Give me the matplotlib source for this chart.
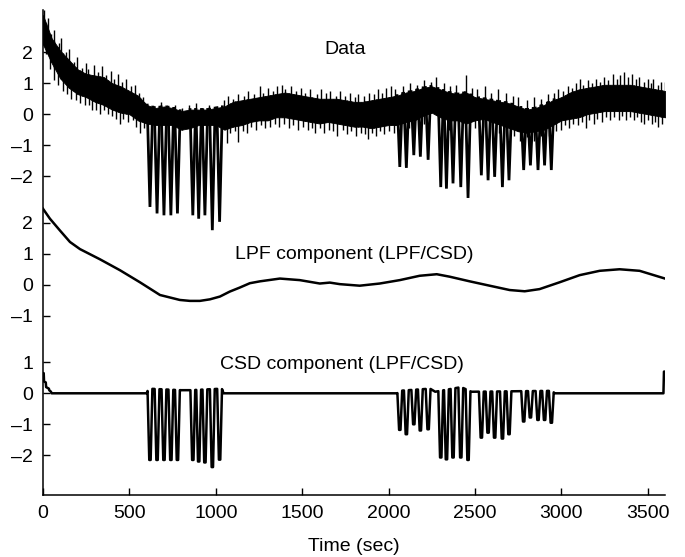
import numpy as np
import matplotlib
matplotlib.use("Agg")
import matplotlib.pyplot as plt

plt.rcParams['font.family'] = ['Liberation Sans', 'DejaVu Sans']

# vertical offsets of the three stacked traces on one shared axis
OFF_DATA, OFF_LPF, OFF_CSD = 9.0, 3.5, 0.0

# LPF component (time in sec, value)
lpf_t = [0, 40, 98, 156, 214, 330, 445, 561, 677, 792, 850, 908, 966, 1024, 1081, 1139,
         1197, 1255, 1371, 1486, 1602, 1660, 1718, 1833, 1949, 2065, 2180, 2279, 2354,
         2470, 2585, 2701, 2788, 2874, 2990, 3106, 3222, 3337, 3453, 3600]
lpf_v = [2.45, 2.13, 1.75, 1.38, 1.15, 0.82, 0.47, 0.08, -0.33, -0.49, -0.52, -0.52, -0.47,
         -0.38, -0.22, -0.09, 0.05, 0.11, 0.2, 0.15, 0.04, 0.07, 0.02, -0.03, 0.04, 0.15,
         0.29, 0.34, 0.26, 0.11, -0.03, -0.17, -0.21, -0.14, 0.08, 0.31, 0.45, 0.5, 0.45, 0.2]

# CSD component: baseline knots plus the individual pulses
csd_base_t = [0, 4, 6, 16, 18, 34, 36, 46, 50, 600, 610, 800, 850, 1035, 1045, 2050, 2060,
              2240, 2270, 2420, 2480, 2950, 2960, 3591, 3594, 3600]
csd_base_v = [0.65, 0.65, 0.38, 0.35, 0.2, 0.15, 0.1, 0.05, 0.0, 0.0, 0.15, 0.1, 0.1, 0.15,
              0.0, 0.0, 0.08, 0.15, 0.05, 0.2, 0.05, 0.08, 0.0, 0.0, 0.7, 0.7]
pulse_t = [619, 660, 700, 740, 778, 867, 901, 937, 980, 1022,
           2065, 2103, 2146, 2184, 2229, 2302, 2335, 2373, 2418, 2460,
           2537, 2576, 2614, 2659, 2697, 2782, 2821, 2865, 2903, 2942]
pulse_depth = [-2.15, -2.15, -2.15, -2.15, -2.15, -2.15, -2.2, -2.23, -2.38, -2.14,
               -1.18, -1.32, -1.0, -1.2, -1.16, -2.07, -2.13, -2.07, -2.07, -2.15,
               -1.43, -1.27, -1.43, -1.46, -1.32, -0.91, -0.78, -0.86, -0.86, -0.95]

# raw data: solid core of the noise band every 50 s
env_t = list(range(0, 3601, 50))
env_hi = [3.2, 2.45, 2.05, 1.75, 1.45, 1.3, 1.25, 1.2, 1.0, 0.9, 0.75, 0.6, 0.3, 0.2, 0.25,
          0.2, 0.1, 0.15, 0.15, 0.15, 0.2, 0.25, 0.4, 0.45, 0.5, 0.55, 0.6, 0.65, 0.7, 0.65,
          0.6, 0.55, 0.5, 0.5, 0.5, 0.45, 0.4, 0.4, 0.45, 0.5, 0.55, 0.6, 0.7, 0.75, 0.85,
          0.9, 0.8, 0.7, 0.65, 0.7, 0.55, 0.5, 0.45, 0.4, 0.35, 0.25, 0.15, 0.2, 0.3, 0.45,
          0.55, 0.7, 0.8, 0.85, 0.9, 0.95, 0.95, 0.95, 0.95, 0.9, 0.85, 0.8, 0.75]
env_lo = [2.25, 1.65, 1.15, 0.85, 0.65, 0.55, 0.4, 0.3, 0.15, 0.05, 0.0, -0.2, -0.3, -0.35,
          -0.35, -0.35, -0.5, -0.45, -0.35, -0.35, -0.35, -0.5, -0.4, -0.35, -0.25, -0.2, -0.2,
          -0.1, -0.1, -0.15, -0.2, -0.25, -0.3, -0.25, -0.3, -0.35, -0.4, -0.4, -0.45, -0.4,
          -0.35, -0.35, -0.25, -0.2, -0.05, 0.05, -0.1, -0.2, -0.2, -0.3, -0.2, -0.15, -0.25,
          -0.35, -0.45, -0.55, -0.6, -0.55, -0.5, -0.35, -0.2, -0.15, -0.1, 0.0, 0.05, 0.1,
          0.1, 0.1, 0.1, 0.05, 0.0, -0.05, -0.1]
# noise spikes sticking out of the band (upper and lower fringe)
spike_up_t = [5, 27, 48, 66, 90, 104, 131, 152, 178, 197, 224, 251, 262, 293, 318, 339, 362,
              391, 412, 433, 458, 482, 509, 531, 558, 578, 640, 682, 722, 763, 805, 846, 885,
              924, 962, 1005, 1046, 1071, 1098, 1127, 1163, 1186, 1219, 1255, 1272, 1301,
              1334, 1352, 1385, 1402, 1437, 1462, 1493, 1517, 1546, 1583, 1608, 1637, 1662,
              1695, 1721, 1749, 1778, 1806, 1823, 1857, 1884, 1913, 1938, 1961, 1988, 2012,
              2036, 2084, 2124, 2162, 2205, 2244, 2272, 2318, 2353, 2393, 2446, 2483, 2514,
              2557, 2595, 2636, 2679, 2718, 2748, 2802, 2843, 2884, 2923, 2958, 2983, 3012,
              3037, 3064, 3085, 3106, 3128, 3152, 3177, 3203, 3226, 3248, 3271, 3300, 3322,
              3341, 3360, 3386, 3407, 3431, 3452, 3476, 3499, 3521, 3533, 3557, 3578, 3598]
spike_up_v = [3.35, 3.1, 2.6, 2.7, 2.3, 2.45, 2.0, 2.1, 1.7, 1.85,
              1.5, 1.65, 1.45, 1.6, 1.35, 1.55, 1.25, 1.4, 1.15, 1.3,
              1.05, 1.15, 0.9, 0.95, 0.7, 0.55, 0.25, 0.4, 0.15, 0.3,
              0.2, 0.3, 0.35, 0.2, 0.3, 0.25, 0.45, 0.6, 0.5, 0.65,
              0.6, 0.75, 0.65, 0.9, 0.7, 0.85, 0.75, 0.9, 0.95, 0.8,
              0.9, 0.75, 0.85, 0.7, 0.8, 0.65, 0.8, 0.7, 0.75, 0.6,
              0.75, 0.6, 0.7, 0.55, 0.65, 0.6, 0.7, 0.65, 0.8, 0.7,
              0.85, 0.9, 0.8, 0.9, 1.0, 0.95, 1.1, 1.05, 1.2, 1.0,
              0.9, 0.95, 1.26, 0.85, 0.8, 0.9, 0.7, 0.8, 0.7, 0.6,
              0.55, 0.45, 0.55, 0.5, 0.65, 0.7, 0.8, 0.75, 0.9, 0.85,
              1.0, 1.15, 0.95, 1.1, 1.0, 1.15, 1.05, 1.2, 1.1, 1.3,
              1.15, 1.25, 1.37, 1.2, 1.3, 1.15, 1.2, 1.05, 1.15, 1.0,
              1.15, 0.95, 1.05, 1.05]
spike_dn_t = [18, 41, 63, 86, 113, 138, 164, 189, 213, 241, 268, 281, 307, 330, 352, 377, 401,
              423, 445, 463, 491, 518, 539, 561, 587, 1062, 1085, 1111, 1130, 1157, 1182,
              1206, 1233, 1262, 1287, 1316, 1343, 1367, 1395, 1421, 1447, 1478, 1502, 1531,
              1558, 1572, 1603, 1629, 1654, 1681, 1702, 1736, 1757, 1785, 1812, 1838, 1861,
              1880, 1904, 1929, 1953, 1976, 2003, 2029, 2118, 2207, 2352, 2499, 2558, 2639,
              2727, 2758, 2803, 2843, 2884, 2926, 2968, 2996, 3021, 3047, 3069, 3094, 3117,
              3140, 3163, 3188, 3209, 3236, 3258, 3283, 3306, 3331, 3349, 3372, 3396, 3418,
              3437, 3462, 3481, 3503, 3526, 3545, 3562, 3584]
spike_dn_v = [1.95, 1.45, 1.1, 0.95, 0.75, 0.65, 0.5, 0.45, 0.35, 0.3,
              0.3, 0.15, 0.15, 0.0, 0.15, 0.0, -0.05, -0.15, -0.3, -0.15,
              -0.25, -0.2, -0.4, -0.6, -0.45, -0.94, -0.6, -0.55, -0.89, -0.55,
              -0.6, -0.4, -0.5, -0.35, -0.45, -0.4, -0.3, -0.4, -0.3, -0.45,
              -0.35, -0.5, -0.4, -0.5, -0.45, -0.6, -0.45, -0.6, -0.5, -0.55,
              -0.7, -0.5, -0.65, -0.55, -0.7, -0.6, -0.65, -0.8, -0.6, -0.7,
              -0.55, -0.65, -0.55, -0.6, -0.45, -0.3, -0.5, -0.45, -0.4, -0.6,
              -0.7, -0.85, -0.75, -0.85, -0.7, -0.7, -0.55, -0.5, -0.35, -0.45,
              -0.3, -0.35, -0.25, -0.46, -0.2, -0.3, -0.15, -0.25, -0.1, -0.2,
              -0.1, -0.2, -0.05, -0.2, -0.1, -0.2, -0.1, -0.25, -0.3, -0.2,
              -0.3, -0.25, -0.4, -0.3]
# deep dips of the raw data (same events as the CSD pulses)
dip_v = [-2.99, -3.2, -3.26, -3.26, -3.2, -3.26, -3.37, -3.26, -3.74, -3.47,
         -1.7, -1.73, -1.32, -1.37, -1.47, -2.35, -2.4, -2.23, -2.35, -2.7,
         -1.97, -2.13, -2.02, -2.35, -2.13, -1.8, -1.65, -1.8, -1.65, -1.8]

x_ticks = [0, 500, 1000, 1500, 2000, 2500, 3000, 3500]
panel_ticks = {OFF_DATA: [-2, -1, 0, 1, 2], OFF_LPF: [-1, 0, 1, 2], OFF_CSD: [-2, -1, 0, 1]}

fig = plt.figure(figsize=(6.85, 5.57), dpi=100)
ax = fig.add_axes([0.0628, 0.1113, 0.908, 0.8707])

# raw data trace
env_hi_a = np.array(env_hi) + OFF_DATA
env_lo_a = np.array(env_lo) + OFF_DATA
ax.fill_between(env_t, env_lo_a, env_hi_a, color='black', lw=0.6)
ax.vlines(spike_up_t, np.interp(spike_up_t, env_t, env_lo_a), np.array(spike_up_v) + OFF_DATA,
          color='black', lw=1.0)
ax.vlines(spike_dn_t, np.array(spike_dn_v) + OFF_DATA, np.interp(spike_dn_t, env_t, env_hi_a),
          color='black', lw=1.0)
dip_half = 16
for c, d in zip(pulse_t, dip_v):
    top = np.interp([c - dip_half, c + dip_half], env_t, env_hi_a)
    ax.plot([c - dip_half, c, c + dip_half], [top[0], d + OFF_DATA, top[1]],
            color='black', lw=2.0, solid_joinstyle='miter')

# LPF trace
ax.plot(lpf_t, np.array(lpf_v) + OFF_LPF, color='black', lw=1.8)

# CSD trace: build pulse shapes on top of the baseline
half_top, half_bot = 14, 4
pts = []
for c, d in zip(pulse_t, pulse_depth):
    pts.append((c - half_top, np.interp(c - half_top, csd_base_t, csd_base_v)))
    pts.append((c - half_bot, d))
    pts.append((c + half_bot, d))
    pts.append((c + half_top, np.interp(c + half_top, csd_base_t, csd_base_v)))
for t, v in zip(csd_base_t, csd_base_v):
    if all(abs(t - c) > half_top for c in pulse_t):
        pts.append((t, v))
pts.sort()
csd_x = [p[0] for p in pts]
csd_y = [p[1] + OFF_CSD for p in pts]
ax.plot(csd_x, csd_y, color='black', lw=1.8)

# panel titles
ax.text(1750, OFF_DATA + 2.1, 'Data', ha='center', va='center', fontsize=14)
ax.text(1800, OFF_LPF + 0.97, 'LPF component (LPF/CSD)', ha='center', va='center', fontsize=14)
ax.text(1730, OFF_CSD + 0.94, 'CSD component (LPF/CSD)', ha='center', va='center', fontsize=14)

# axes styling
ax.set_xlim(0, 3600)
ax.set_ylim(-3.28, 12.36)
ax.set_xticks(x_ticks)
ax.set_xticklabels([str(v) for v in x_ticks])
ytick_pos, ytick_lab = [], []
for off, vals in panel_ticks.items():
    for v in vals:
        ytick_pos.append(off + v)
        ytick_lab.append(str(v).replace('-', '\u2013'))
ax.set_yticks(ytick_pos)
ax.set_yticklabels(ytick_lab)
ax.tick_params(direction='in', length=5, width=1, labelsize=14, pad=7)
ax.set_xlabel('Time (sec)', fontsize=14, labelpad=12)
for side in ['top', 'right']:
    ax.spines[side].set_visible(False)
for side in ['left', 'bottom']:
    ax.spines[side].set_linewidth(1.1)

fig.savefig('out.png', dpi=100)
